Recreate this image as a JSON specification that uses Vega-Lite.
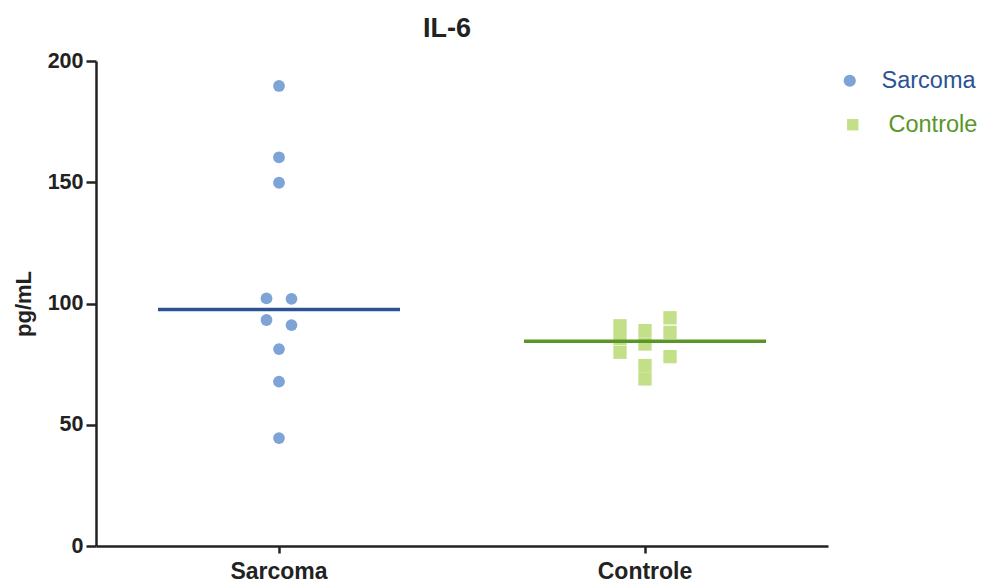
{
  "$schema": "https://vega.github.io/schema/vega-lite/v6.json",
  "width": 732,
  "height": 485,
  "autosize": "none",
  "padding": {"left": 96, "top": 61, "right": 154, "bottom": 37},
  "background": "white",
  "config": {
    "view": {"stroke": null},
    "font": "Liberation Sans"
  },
  "title": {
    "text": "IL-6",
    "font": "Liberation Sans",
    "fontSize": 27,
    "fontWeight": "bold",
    "color": "#222222",
    "anchor": "middle",
    "baseline": "alphabetic",
    "offset": 21,
    "dy": 35,
    "dx": -15
  },
  "data": {
    "values": [
      {"grupo": "Sarcoma", "valor": 189.7, "faixa": "c"},
      {"grupo": "Sarcoma", "valor": 160.3, "faixa": "c"},
      {"grupo": "Sarcoma", "valor": 149.8, "faixa": "c"},
      {"grupo": "Sarcoma", "valor": 102.1, "faixa": "l1"},
      {"grupo": "Sarcoma", "valor": 101.9, "faixa": "r1"},
      {"grupo": "Sarcoma", "valor": 93.2, "faixa": "l1"},
      {"grupo": "Sarcoma", "valor": 91.1, "faixa": "r1"},
      {"grupo": "Sarcoma", "valor": 81.2, "faixa": "c"},
      {"grupo": "Sarcoma", "valor": 67.8, "faixa": "c"},
      {"grupo": "Sarcoma", "valor": 44.5, "faixa": "c"},
      {"grupo": "Controle", "valor": 90.8, "faixa": "l2"},
      {"grupo": "Controle", "valor": 85.6, "faixa": "l2"},
      {"grupo": "Controle", "valor": 79.9, "faixa": "l2"},
      {"grupo": "Controle", "valor": 88.8, "faixa": "c"},
      {"grupo": "Controle", "valor": 83.3, "faixa": "c"},
      {"grupo": "Controle", "valor": 74.4, "faixa": "c"},
      {"grupo": "Controle", "valor": 68.9, "faixa": "c"},
      {"grupo": "Controle", "valor": 94.1, "faixa": "r2"},
      {"grupo": "Controle", "valor": 88.1, "faixa": "r2"},
      {"grupo": "Controle", "valor": 78.1, "faixa": "r2"}
    ]
  },
  "encoding": {
    "x": {
      "field": "grupo",
      "type": "nominal",
      "sort": ["Sarcoma", "Controle"],
      "scale": {"type": "band", "domain": ["Sarcoma", "Controle"], "paddingInner": 0, "paddingOuter": 0},
      "axis": {
        "title": null,
        "labelAngle": 0,
        "labelFont": "Liberation Sans",
        "labelFontSize": 23,
        "labelFontWeight": "bold",
        "labelColor": "#222222",
        "labelPadding": 7,
        "tickSize": 7,
        "tickWidth": 2.5,
        "tickColor": "#222222",
        "domainColor": "#222222",
        "domainWidth": 2.5,
        "grid": false
      }
    },
    "y": {
      "field": "valor",
      "type": "quantitative",
      "scale": {"domain": [0, 200], "nice": false, "zero": true},
      "axis": {
        "title": "pg/mL",
        "titleFont": "Liberation Sans",
        "titleFontSize": 22,
        "titleFontWeight": "bold",
        "titleColor": "#222222",
        "titlePadding": 12,
        "values": [0, 50, 100, 150, 200],
        "labelFont": "Liberation Sans",
        "labelFontSize": 21.5,
        "labelFontWeight": "bold",
        "labelColor": "#222222",
        "labelPadding": 3,
        "tickSize": 10,
        "tickWidth": 2.5,
        "tickColor": "#222222",
        "domainColor": "#222222",
        "domainWidth": 2.5,
        "grid": false
      }
    }
  },
  "layer": [
    {
      "transform": [{"filter": "datum.grupo === 'Sarcoma'"}],
      "mark": {"type": "point", "filled": true, "shape": "circle", "size": 139, "opacity": 1},
      "encoding": {
        "xOffset": {
          "field": "faixa",
          "type": "nominal",
          "scale": {"type": "point", "domain": ["l2", "l1", "c", "r1", "r2"], "range": [158, 208], "padding": 0}
        },
        "color": {
          "field": "grupo",
          "type": "nominal",
          "scale": {"domain": ["Sarcoma"], "range": ["#7ea3d7"]},
          "legend": {
            "title": null,
            "orient": "none",
            "legendX": 742,
            "legendY": 8,
            "symbolType": "circle",
            "symbolSize": 150,
            "symbolOpacity": 1,
            "labelFont": "Liberation Sans",
            "labelFontSize": 23.5,
            "labelColor": "#2b5394",
            "labelOffset": 20
          }
        }
      }
    },
    {
      "transform": [{"filter": "datum.grupo === 'Controle'"}],
      "mark": {"type": "square", "filled": true, "size": 177, "opacity": 1},
      "encoding": {
        "xOffset": {
          "field": "faixa",
          "type": "nominal",
          "scale": {"type": "point", "domain": ["l2", "l1", "c", "r1", "r2"], "range": [158, 208], "padding": 0}
        },
        "color": {
          "field": "grupo",
          "type": "nominal",
          "scale": {"domain": ["Controle"], "range": ["#c3df87"]},
          "legend": {
            "title": null,
            "orient": "none",
            "legendX": 745,
            "legendY": 52,
            "symbolType": "square",
            "symbolSize": 130,
            "symbolOpacity": 1,
            "labelFont": "Liberation Sans",
            "labelFontSize": 23.5,
            "labelColor": "#5a9627",
            "labelOffset": 24
          }
        }
      }
    },
    {
      "mark": {"type": "tick", "orient": "horizontal", "size": 242, "thickness": 3.5, "opacity": 1},
      "encoding": {
        "y": {"aggregate": "median", "field": "valor", "type": "quantitative"},
        "color": {
          "condition": {"test": "datum.grupo === 'Sarcoma'", "value": "#2b5394"},
          "value": "#5a9627"
        }
      }
    }
  ],
  "resolve": {"scale": {"color": "independent"}, "legend": {"color": "independent"}}
}
